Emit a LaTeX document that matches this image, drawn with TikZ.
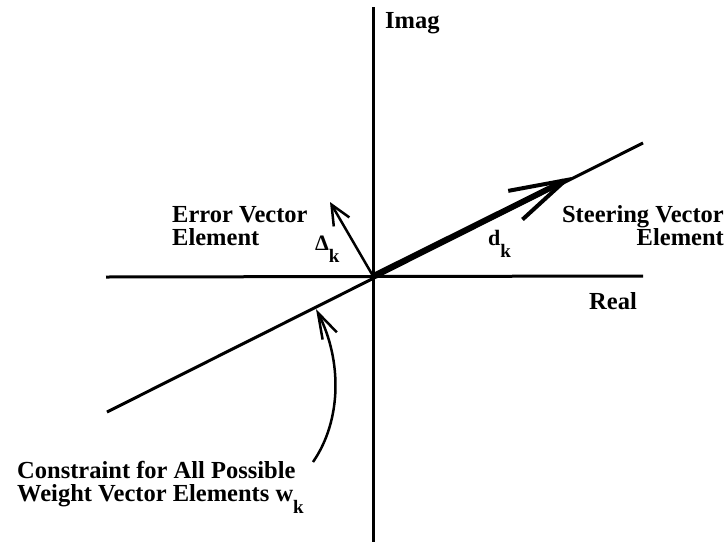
\documentclass[tikz,border=0pt]{standalone}
\usepackage{fontspec}
\setmainfont{Liberation Serif}
\usetikzlibrary{arrows.meta}
\newcommand\subk{\raisebox{-12pt}{\fontsize{19}{19}\selectfont k}}
\tikzset{
  lbl/.style={font=\fontsize{24.5}{23.5}\selectfont\bfseries, inner sep=0pt},
  sym/.style={font=\fontsize{22}{22}\selectfont\bfseries, inner sep=0pt},
  axis/.style={line width=3pt},
  thinvec/.style={line width=2.5pt, -{Straight Barb[length=20pt,width=18pt,line width=2.5pt]}},
  thickvec/.style={line width=5.5pt, -{Straight Barb[length=56pt,width=32pt,line width=4pt]}},
  curvevec/.style={line width=2.5pt, -{Straight Barb[length=26pt,width=16pt,line width=2.5pt]}}
}
\begin{document}
\begin{tikzpicture}[x=1pt,y=-1pt]
\useasboundingbox (0,0) rectangle (727,541);
% key points
\coordinate (O) at (373,276);
\coordinate (yt) at (373,7);
\coordinate (yb) at (373,545);
\coordinate (xl) at (106,277);
\coordinate (xr) at (643,276);
\coordinate (cl) at (107,412);
\coordinate (cr) at (643,143);
\coordinate (dtip) at (330,202);
\coordinate (ktip) at (572,177);
\coordinate (ctail) at (313,462);
\coordinate (ctip) at (316,309);
% axes and constraint line
\draw[axis] (yt) -- (yb);
\draw[axis] (xl) -- (xr);
\draw[axis] (cl) -- (cr);
% vectors
\draw[thickvec] (O) -- (ktip);
\draw[thinvec] (O) -- (dtip);
\draw[curvevec] (ctail) .. controls (342,420) and (342,360) .. (ctip);
% labels
\node[lbl, anchor=base west] (imag) at (385,28) {Imag};
\node[lbl, anchor=base east] (real) at (637,309) {Real};
\node[lbl, align=left, anchor=north west] (err) at (172,206) {Error Vector\\Element};
\node[lbl, align=right, anchor=north east] (steer) at (724,205) {Steering Vector\\Element};
\node[lbl, align=left, anchor=north west] (cons) at (17,461) {Constraint for All Possible\\Weight Vector Elements w\subk};
\node[sym, anchor=base west] (delta) at (315,250) {Δ\subk};
\node[sym, anchor=base west] (dk) at (488,245) {d\subk};
\end{tikzpicture}
\end{document}
